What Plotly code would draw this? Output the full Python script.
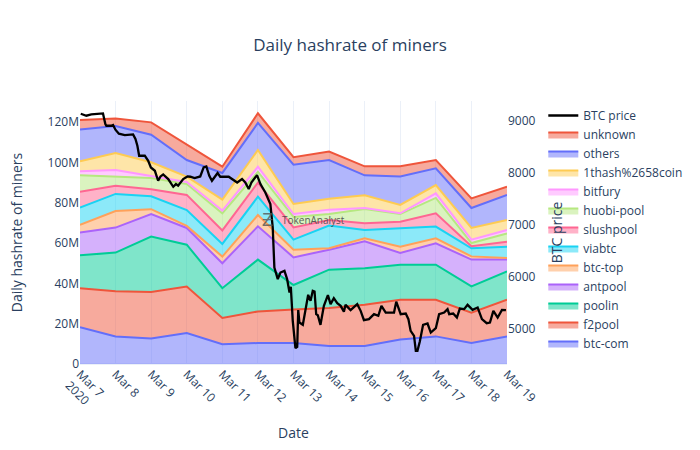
import pandas as pd
import plotly.graph_objects as go

days = ["2020-03-%02d" % d for d in range(7, 20)]

btc_com = [18.2,13.7,12.7,15.4,9.8,10.4,10.4,8.9,8.9,12.2,13.7,10.4,13.7]
f2pool = [19.4,22.4,23,23,13,15.7,16.6,18.9,20.5,19.7,18.2,15.1,18.2]
poolin = [16.3,19.2,27.5,20.8,14.8,25.7,12.2,19,18.1,17.4,17.4,13,14.1]
antpool = [11.4,12.4,11.2,8.3,12.4,16.5,13.7,9.9,13.4,5.8,10.6,13.3,5.8]
btc_top = [3.8,8.2,2.4,1,3.3,5.6,3.8,0.7,1.5,3.1,2.5,1.6,0.8]
viabtc = [8.5,8.5,6.4,7.9,6.3,9.1,5,11.3,4.1,9.1,5.8,4,5.6]
slushpool = [7.9,4.1,3.5,7.5,6.7,7,6.1,2.8,3.3,3.3,6.6,1,2.5]
huobi_pool = [8.1,4.5,5.6,5.4,8.5,5.4,5.2,2.9,7.1,3.8,7.6,1.6,4.1]
bitfury = [2,3.3,1,1,1.3,2.5,1.4,2.2,0.5,0.4,2.3,1.7,1.7]
thash = [5,8.4,6.8,2.7,5.5,8.3,5,5.4,6.3,4.1,4.1,5.8,5]
others = [15.7,13.4,13.7,8.2,13.2,13.4,19.5,19.2,9.9,14.1,8.3,9.9,12.4]
unknown = [4.8,3.7,6.1,7.7,3.1,4.8,3.7,4.2,4.5,5.1,4.1,4.8,4.1]

btc_hours = [0.5,4.3,7.6,11,15.5,17.1,17.8,21.2,22.3,23.9,26.2,30.2,35.8,37.4,38.7,39.9,43.7,46,47.8,50.5,
             52.7,54.3,56.1,59.5,62.9,64.7,66.2,69.6,72.5,74.4,77.3,81.1,83.4,85.2,87.2,89,92.8,94.6,100.3,106,
             109.3,111.5,113.8,115.6,119.4,121.7,125,128.4,130,131.1,133.4,135.2,137.9,139.7,141.3,142.2,143.5,145.3,146.5,147.2,
             148,150.3,153.9,155.5,157,158.2,159.3,160.4,162.2,164.5,167.2,169,171.2,173.5,175.8,178,179.1,182.5,187,189.3,
             191.5,194.9,198.3,201.2,203.3,206.2,211.8,213.3,216.3,219.7,221.5,223,225.3,226.5,227.6,229.2,231.4,234.4,236.6,240,
             242.2,245.6,247.9,249,251.7,254.2,256.2,259.1,261.4,264.8,268.2,271.1,274.3,276.5,278.8,281.7,284.6,287.3]
btc_price = [9140,9102,9127,9140,9146,8942,8909,8909,8923,8833,8756,8731,8742,8654,8525,8333,8333,8236,8108,8044,
             7852,7935,7973,7885,7736,7788,7756,7885,7935,7929,7904,7935,8108,8127,7948,7852,8000,7929,7929,7819,
             7885,7819,7692,7819,7961,7788,7627,7404,6954,6185,5962,6088,6121,5962,5704,5813,5160,4635,4660,5365,
             5127,5083,5660,5544,5737,5723,5288,5269,5083,5448,5654,5481,5596,5500,5448,5333,5467,5365,5481,5352,
             5173,5192,5288,5256,5448,5319,5319,5529,5288,5300,5192,4967,4871,4583,4583,4762,5083,5108,4935,5019,
             5288,5319,5385,5288,5300,5223,5396,5385,5467,5371,5415,5192,5115,5127,5352,5223,5371,5365]

names = ["btc-com","f2pool","poolin","antpool","btc-top","viabtc","slushpool","huobi-pool","bitfury","1thash%2658coin","others","unknown"]
series = [btc_com,f2pool,poolin,antpool,btc_top,viabtc,slushpool,huobi_pool,bitfury,thash,others,unknown]
colors = ["#636efa","#EF553B","#00cc96","#ab63fa","#FFA15A","#19d3f3","#FF6692","#B6E880","#FF97FF","#FECB52","#636efa","#EF553B"]

fig = go.Figure()
for n, s, c in zip(names, series, colors):
    fig.add_trace(go.Scatter(x=days, y=[v * 1e6 for v in s], name=n, mode="lines",
                             stackgroup="one", line=dict(color=c, width=2)))

base = pd.Timestamp("2020-03-07")
btc_x = [base + pd.Timedelta(hours=h) for h in btc_hours]
fig.add_trace(go.Scatter(x=btc_x, y=btc_price, name="BTC price", mode="lines", yaxis="y2",
                         line=dict(color="black", width=2.3)))

fig.update_layout(
    template="plotly_white",
    width=700, height=450,
    title=dict(text="Daily hashrate of miners", x=0.5, xanchor="center"),
    margin=dict(l=80, r=193, t=101, b=86),
    showlegend=True,
    legend=dict(x=1.085, y=1.0),
    xaxis=dict(title=dict(text="Date", standoff=17), range=["2020-03-07", "2020-03-19"], tickangle=45,
               dtick=86400000, tick0="2020-03-07", automargin=False),
    yaxis=dict(title=dict(text="Daily hashrate of miners", standoff=21), range=[0, 130.5e6], showgrid=False, automargin=False),
    yaxis2=dict(title=dict(text="BTC price", standoff=17), overlaying="y", side="right", range=[4330, 9385], showgrid=False, automargin=False),
    annotations=[
        dict(text="TokenAnalyst", xref="paper", yref="paper", x=0.546, y=0.548, showarrow=False,
             font=dict(size=10, color="#444444"), opacity=0.85),
        dict(text="Ƶ", xref="paper", yref="paper", x=0.44, y=0.553, showarrow=False,
             font=dict(size=18, color="#555555"), opacity=0.8),
    ],
)
fig.write_html("out.html", config={"displayModeBar": False}, post_script="document.body.style.margin='0';")
